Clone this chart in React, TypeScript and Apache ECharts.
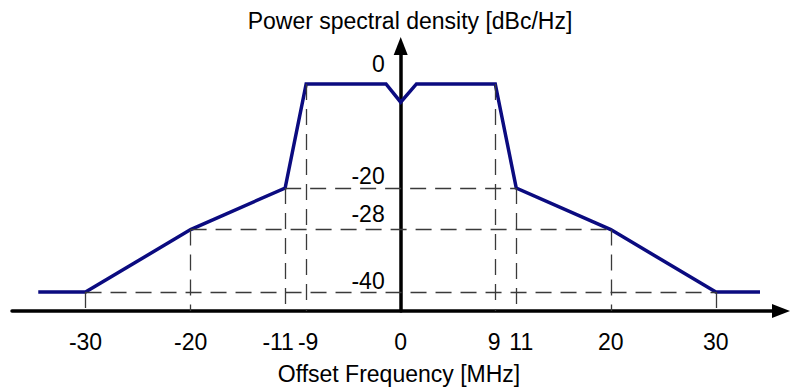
import React, { useEffect, useRef } from "react";
import * as echarts from "echarts";

// Spectral mask (offset frequency in MHz, PSD in dBc/Hz)
const offsetMHz = [-34.5, -30, -20, -11, -9, -1.4, 0, 1.5, 9, 11, 20, 30, 34.2];
const psdDbc = [-40, -40, -28, -20, 0, 0, -3.5, 0, 0, -20, -28, -40, -40];

// Break points of the mask that get guide lines
const guideX = [-30, -20, -11, -9, 9, 11, 20, 30];
const guideY = [-40, -28, -20, 0, 0, -20, -28, -40];

// Tick labels
const xTicks = [-30, -20, -11, -9, 0, 9, 11, 20, 30];
const yTicks = [0, -20, -28, -40];

const TITLE_Y = "Power spectral density [dBc/Hz]";
const TITLE_X = "Offset Frequency [MHz]";

const X_MIN = -37;
const X_MAX = 36.2;
const Y_MIN = -43.65;
const Y_MAX = 7.3;

const W = 790;
const H = 388;
const GRID = { left: 12, right: 9, top: 46, bottom: 77 };

const FONT = "'Liberation Sans', Arial, sans-serif";

export default function App() {
  const ref = useRef<HTMLDivElement>(null);

  useEffect(() => {
    if (!ref.current) return;
    const chart = echarts.init(ref.current, null, { renderer: "svg" });

    const guideLines: any[] = [];
    guideX.forEach((x, i) => {
      guideLines.push([{ coord: [x, guideY[i]] }, { coord: [x, Y_MIN] }]);
    });
    const half = guideX.length / 2;
    for (let i = 0; i < half; i++) {
      const j = guideX.length - 1 - i;
      if (guideY[i] !== 0) {
        guideLines.push([{ coord: [guideX[i], guideY[i]] }, { coord: [guideX[j], guideY[j]] }]);
      }
    }

    // place the y axis where x = 0 (offset is measured from the grid's left edge)
    const gridW = W - GRID.left - GRID.right;
    const yAxisOffset = -((0 - X_MIN) / (X_MAX - X_MIN)) * gridW;

    const xLabelShift: Record<string, string> = { "-11": "a", "-9": "b", "9": "c", "11": "d" };
    const yLabelShift: Record<string, string> = { "0": "z", "-28": "m" };
    const base = { fontSize: 23, fontFamily: FONT, color: "#000" };

    chart.setOption({
      animation: false,
      grid: { ...GRID, containLabel: false, outerBoundsMode: "none" },
      xAxis: {
        type: "value",
        min: X_MIN,
        max: X_MAX,
        axisLine: {
          show: true,
          onZero: false,
          symbol: ["none", "triangle"],
          symbolSize: [14, 18],
          lineStyle: { color: "#000", width: 3.5 },
        },
        axisTick: { show: false },
        splitLine: { show: false },
        axisLabel: {
          customValues: xTicks,
          margin: 19,
          ...base,
          formatter: (v: number) => {
            const k = xLabelShift[String(v)];
            return k ? `{${k}|${v}}` : String(v);
          },
          rich: {
            a: { ...base, padding: [0, 14, 0, 0] },
            b: { ...base, padding: [0, 0, 0, 4] },
            c: { ...base, padding: [0, 2, 0, 0] },
            d: { ...base, padding: [0, 0, 0, 10] },
          },
        },
      },
      yAxis: {
        type: "value",
        min: Y_MIN,
        max: Y_MAX,
        offset: yAxisOffset,
        axisLine: {
          show: true,
          onZero: false,
          symbol: ["none", "triangle"],
          symbolSize: [14, 18],
          lineStyle: { color: "#000", width: 3.5 },
        },
        axisTick: { show: false },
        splitLine: { show: false },
        axisLabel: {
          customValues: yTicks,
          margin: 16,
          ...base,
          verticalAlign: "bottom",
          formatter: (v: number) => {
            const k = yLabelShift[String(v)];
            return k ? `{${k}|${v}}` : String(v);
          },
          rich: {
            z: { ...base, padding: [0, 0, 8, 0] },
            m: { ...base, padding: [0, 0, 4, 0] },
          },
        },
      },
      graphic: [
        {
          type: "text",
          x: 410,
          y: 21,
          style: {
            text: TITLE_Y,
            fontSize: 23,
            fontFamily: FONT,
            fill: "#000",
            textAlign: "center",
            textVerticalAlign: "middle",
          },
        },
        {
          type: "text",
          x: 399,
          y: 374,
          style: {
            text: TITLE_X,
            fontSize: 23,
            fontFamily: FONT,
            fill: "#000",
            textAlign: "center",
            textVerticalAlign: "middle",
          },
        },
      ],
      series: [
        {
          type: "line",
          data: [],
          z: 1,
          silent: true,
          markLine: {
            silent: true,
            symbol: ["none", "none"],
            label: { show: false },
            lineStyle: { color: "#3a3a3a", width: 1.3, type: [16, 9] },
            emphasis: { disabled: true },
            data: guideLines,
          },
        },
        {
          type: "line",
          z: 3,
          data: offsetMHz.map((x, i) => [x, psdDbc[i]]),
          showSymbol: false,
          symbol: "none",
          lineStyle: { color: "#0b0b80", width: 3.5, join: "miter" },
          silent: true,
        },
      ],
    });

    return () => chart.dispose();
  }, []);

  return (
    <div
      ref={ref}
      style={{ position: "fixed", left: 0, top: 0, width: W, height: H, background: "#fff" }}
    />
  );
}
